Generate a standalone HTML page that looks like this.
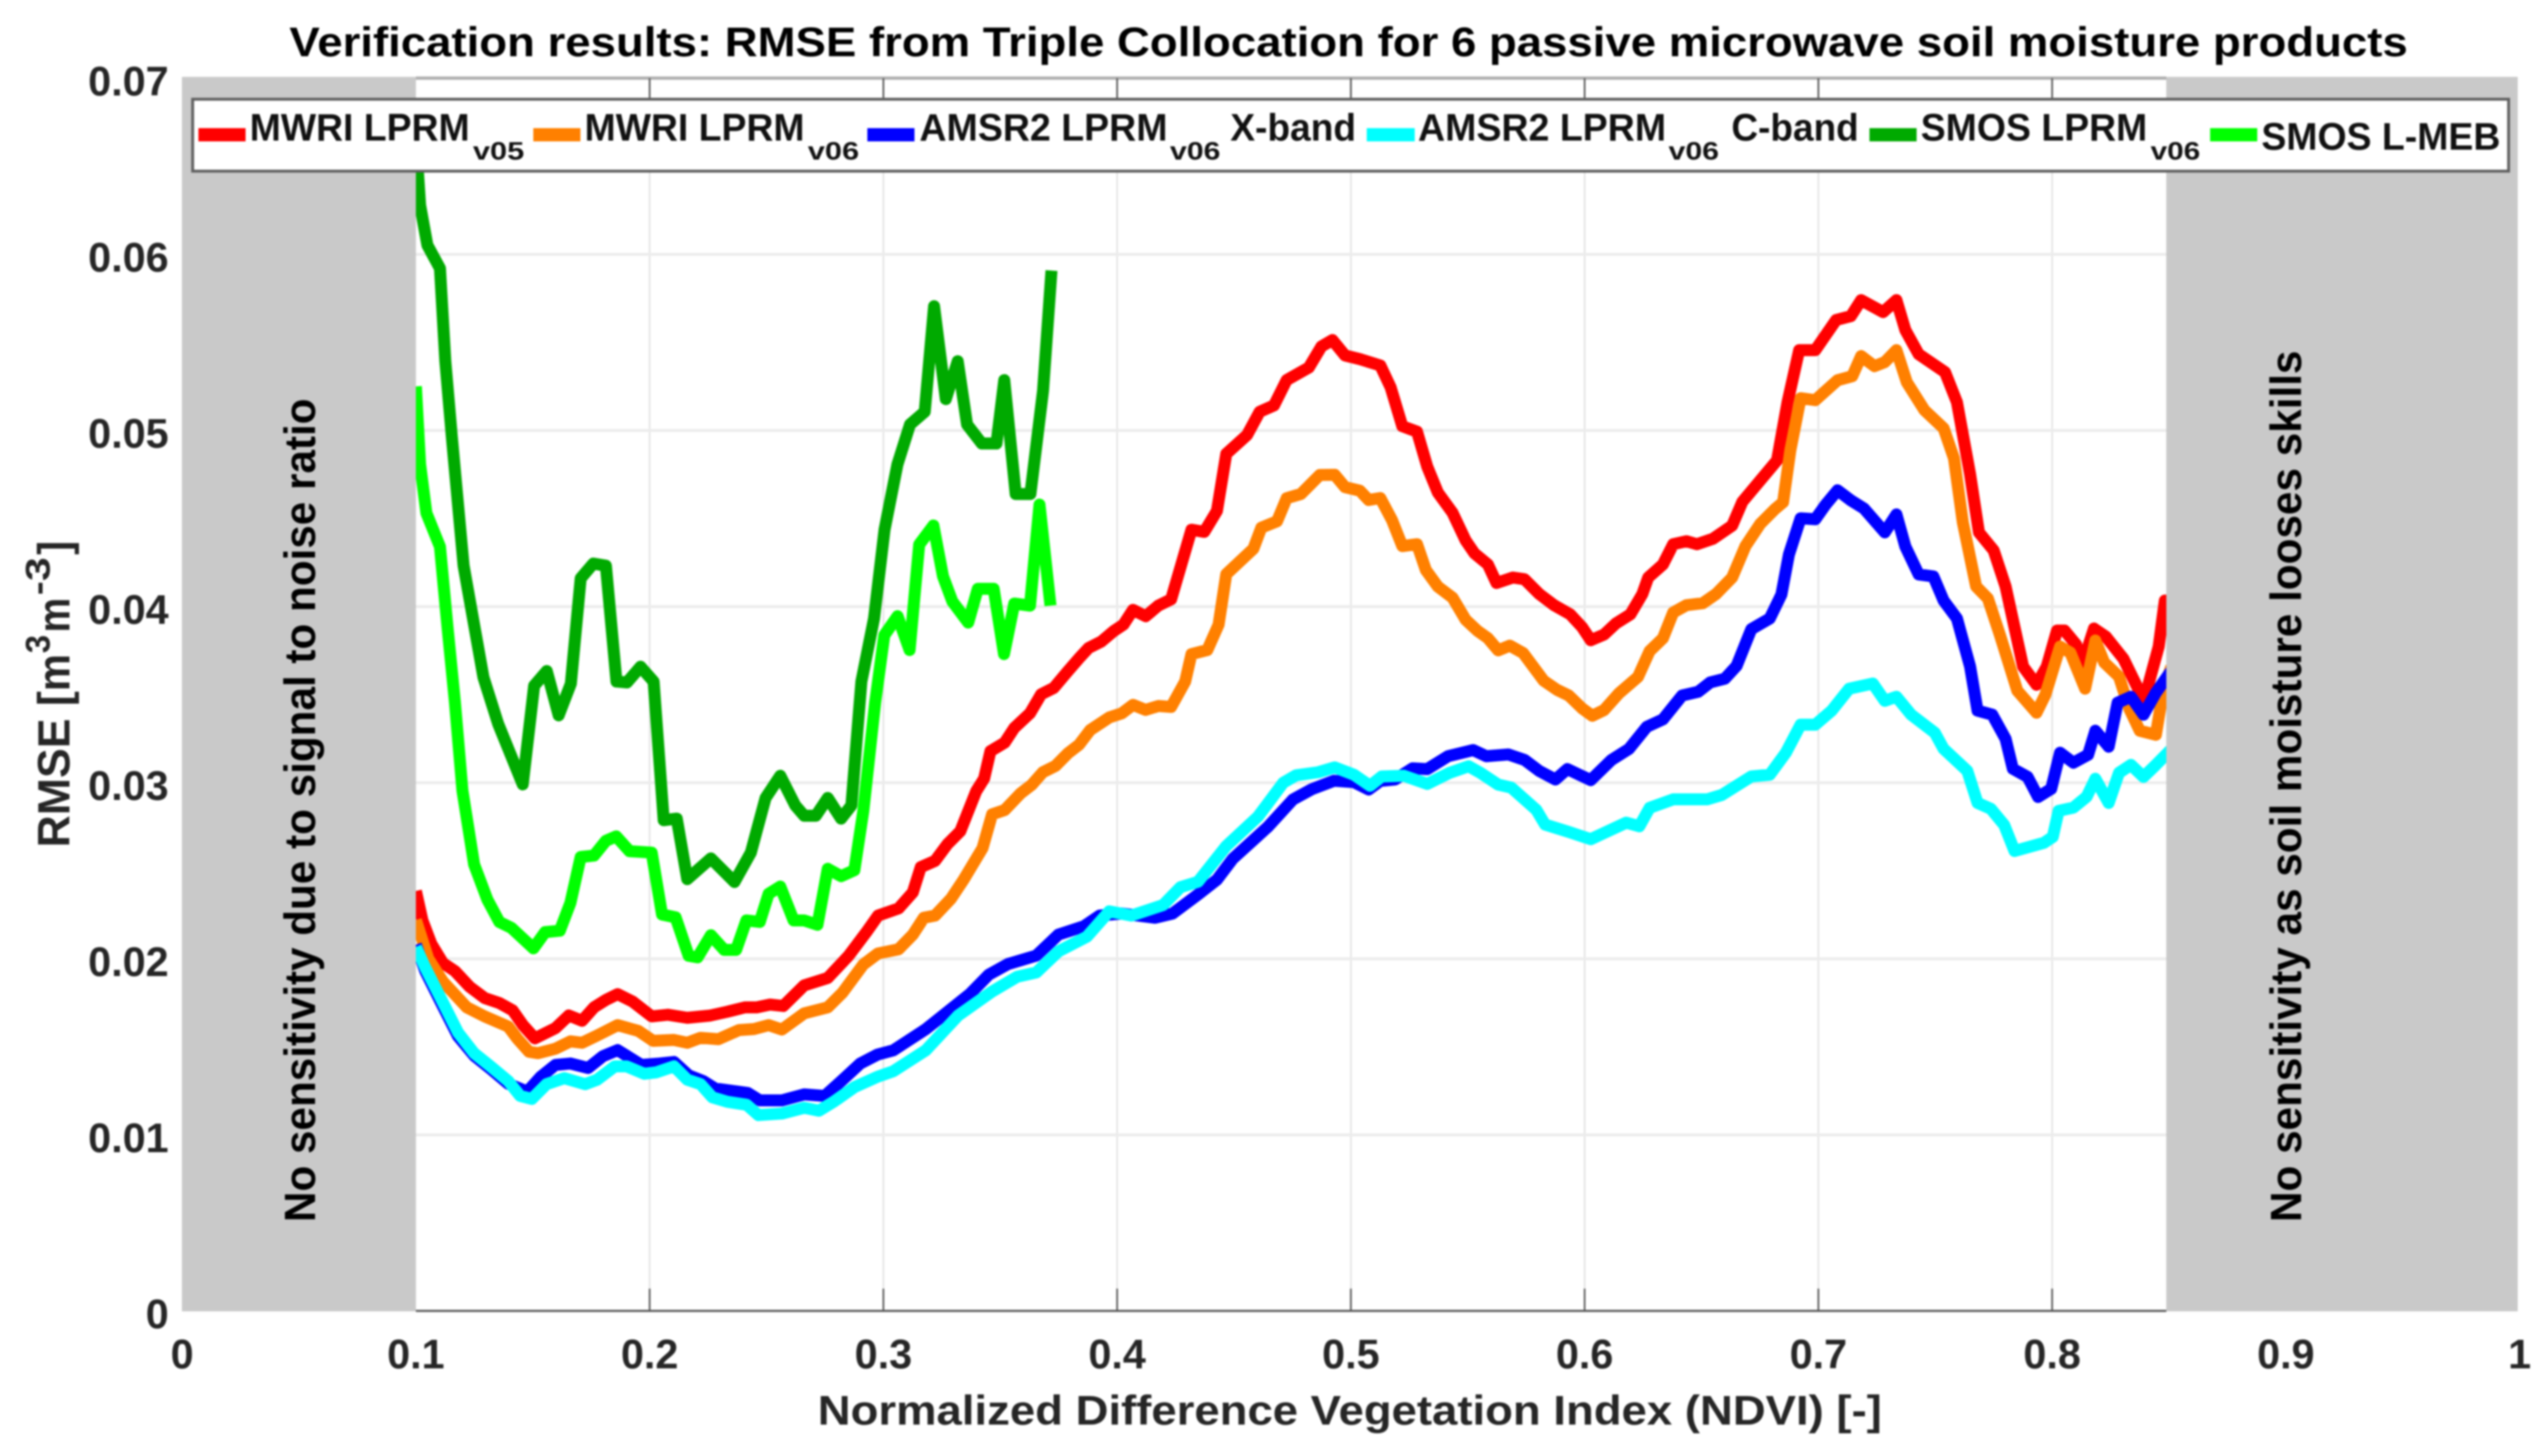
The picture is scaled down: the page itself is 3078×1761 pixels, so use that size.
<!DOCTYPE html>
<html lang="en">
<head>
<meta charset="utf-8">
<title>Verification results: RMSE from Triple Collocation</title>
<style>
html,body{margin:0;padding:0;background:#fff;}
body{width:3078px;height:1761px;overflow:hidden;}
svg{display:block;filter:blur(1.1px);}
text{font-family:"Liberation Sans",sans-serif;font-weight:bold;}
</style>
</head>
<body>
<svg xmlns="http://www.w3.org/2000/svg" width="3078" height="1761" viewBox="0 0 3078 1761">
  <rect x="0" y="0" width="3078" height="1761" fill="#fff"/>
  <g id="grid"></g>
  <g id="series"></g>
  <rect x="220" y="93" width="283" height="1493" fill="#c9c9c9"/>
  <rect x="2620" y="93" width="425" height="1493" fill="#c9c9c9"/>
  <line x1="503" y1="94.5" x2="2620" y2="94.5" stroke="#b0b0b0" stroke-width="4"/>
  <line x1="503" y1="1585.5" x2="2620" y2="1585.5" stroke="#555" stroke-width="2.5"/>
  <g id="ticks"></g>

  <text x="350" y="68" font-size="50" fill="#000" textLength="2562" lengthAdjust="spacingAndGlyphs">Verification results: RMSE from Triple Collocation for 6 passive microwave soil moisture products</text>

  <text x="989" y="1723" font-size="50" fill="#262626" textLength="1287" lengthAdjust="spacingAndGlyphs">Normalized Difference Vegetation Index (NDVI) [-]</text>

  <g fill="#262626">
    <text transform="translate(84,1025) rotate(-90)" font-size="55" textLength="189" lengthAdjust="spacingAndGlyphs" x="0" y="0">RMSE [</text>
    <text transform="translate(84,836) rotate(-90)" font-size="55" x="0" y="0" textLength="45" lengthAdjust="spacingAndGlyphs">m</text>
    <text transform="translate(60,790) rotate(-90)" font-size="42" x="0" y="0" textLength="22" lengthAdjust="spacingAndGlyphs">3</text>
    <text transform="translate(84,765) rotate(-90)" font-size="55" x="0" y="0" textLength="42" lengthAdjust="spacingAndGlyphs">m</text>
    <text transform="translate(60,720) rotate(-90)" font-size="42" x="0" y="0" textLength="46" lengthAdjust="spacingAndGlyphs">-3</text>
    <text transform="translate(84,671) rotate(-90)" font-size="55" x="0" y="0" textLength="17" lengthAdjust="spacingAndGlyphs">]</text>
  </g>

  <text transform="translate(381,1478) rotate(-90)" x="0" y="0" font-size="53" fill="#000" textLength="996" lengthAdjust="spacingAndGlyphs">No sensitivity due to signal to noise ratio</text>
  <text transform="translate(2783,1478) rotate(-90)" x="0" y="0" font-size="53" fill="#000" textLength="1054" lengthAdjust="spacingAndGlyphs">No sensitivity as soil moisture looses skills</text>

  <g>
    <rect x="233" y="120" width="2801" height="87" fill="#fff" stroke="#606060" stroke-width="3.5"/>

    <g>
      <rect x="240" y="155" width="57" height="16" fill="#ff0000"/>
      <text x="302" y="170" font-size="46" fill="#111" textLength="266" lengthAdjust="spacingAndGlyphs">MWRI LPRM</text>
      <text x="572" y="193" font-size="31" fill="#111" textLength="62" lengthAdjust="spacingAndGlyphs">v05</text>
    </g>
    <g>
      <rect x="645" y="155" width="57" height="16" fill="#ff8000"/>
      <text x="707" y="170" font-size="46" fill="#111" textLength="266" lengthAdjust="spacingAndGlyphs">MWRI LPRM</text>
      <text x="977" y="193" font-size="31" fill="#111" textLength="62" lengthAdjust="spacingAndGlyphs">v06</text>
    </g>
    <g>
      <rect x="1049" y="155" width="57" height="16" fill="#0000ff"/>
      <text x="1112" y="170" font-size="46" fill="#111" textLength="300" lengthAdjust="spacingAndGlyphs">AMSR2 LPRM</text>
      <text x="1415" y="193" font-size="31" fill="#111" textLength="61" lengthAdjust="spacingAndGlyphs">v06</text>
      <text x="1488" y="170" font-size="46" fill="#111" textLength="152" lengthAdjust="spacingAndGlyphs">X-band</text>
    </g>
    <g>
      <rect x="1653" y="155" width="58" height="16" fill="#00ffff"/>
      <text x="1715" y="170" font-size="46" fill="#111" textLength="300" lengthAdjust="spacingAndGlyphs">AMSR2 LPRM</text>
      <text x="2018" y="193" font-size="31" fill="#111" textLength="61" lengthAdjust="spacingAndGlyphs">v06</text>
      <text x="2094" y="170" font-size="46" fill="#111" textLength="154" lengthAdjust="spacingAndGlyphs">C-band</text>
    </g>
    <g>
      <rect x="2261" y="155" width="57" height="16" fill="#00aa00"/>
      <text x="2323" y="170" font-size="46" fill="#111" textLength="274" lengthAdjust="spacingAndGlyphs">SMOS LPRM</text>
      <text x="2601" y="193" font-size="31" fill="#111" textLength="60" lengthAdjust="spacingAndGlyphs">v06</text>
    </g>
    <g>
      <rect x="2673" y="155" width="57" height="16" fill="#00ff00"/>
      <text x="2735" y="181" font-size="46" fill="#111" textLength="289" lengthAdjust="spacingAndGlyphs">SMOS L-MEB</text>
    </g>
  </g>
</svg>

<script>
// Axis tick data
const xTickValues = [0, 0.1, 0.2, 0.3, 0.4, 0.5, 0.6, 0.7, 0.8, 0.9, 1];
const xTickLabels = ["0", "0.1", "0.2", "0.3", "0.4", "0.5", "0.6", "0.7", "0.8", "0.9", "1"];
const yTickValues = [0, 0.01, 0.02, 0.03, 0.04, 0.05, 0.06, 0.07];
const yTickLabels = ["0", "0.01", "0.02", "0.03", "0.04", "0.05", "0.06", "0.07"];
const xGridValues = [0.2, 0.3, 0.4, 0.5, 0.6, 0.7, 0.8];
const yGridValues = [0.01, 0.02, 0.03, 0.04, 0.05, 0.06];

// MWRI LPRM v05
const mwriV05Ndvi = [.1,.1028,.1066,.1116,.1167,.123,.1294,.1357,.1414,.1458,.1509,.1597,.1654,.1711,.1762,.1813,.1863,.1927,.2009,.2078,.2161,.2256,.2332,.2408,.2458,.2515,.2572,.2661,.2762,.2851,.2927,
.2977,.3065,.3126,.316,.3221,.3275,.3329,.3397,.3431,.3458,.3519,.356,.3627,.3675,.3729,.379,.3837,.3878,.3932,.3986,.4027,.4068,.4122,.4176,.4231,.4318,.4373,.4427,.4467,.4556,.461,.4671,.4725,.482,.4874,.4921,
.4975,.5038,.5126,.517,.522,.5283,.5327,.5372,.5435,.5491,.5529,.5586,.5623,.5693,.5743,.5806,.5869,.5938,.5989,.6026,.6083,.6134,.6196,.6247,.6272,.6335,.6379,.6436,.648,.6549,.6631,.6675,
.6716,.6823,.6868,.6918,.6987,.7076,.7139,.7183,.7277,.7334,.7372,.7429,.7542,.7593,.7649,.7687,.775,.7801,.7876,.7933,.7977,.8021,.8053,.8103,.8129,.8179,.823,.8305,.8393,.8456,.8482,.851];
const mwriV05Rmse = [.02385,.02218,.02084,.01975,.0193,.01841,.01777,.01749,.01707,.01623,.01548,.01606,.01678,.01648,.01724,.01766,.01799,.01757,.01673,.01682,.01665,.01677,.01699,.01724,.01724,.0174,.01732,.01849,.01891,.02017,.02151,
.02245,.02286,.02377,.0252,.02556,.02652,.02724,.02951,.03023,.03179,.03227,.03311,.03394,.03502,.03538,.03634,.03706,.03765,.03801,.03861,.03897,.03981,.03945,.04005,.04041,.04436,.04424,.04543,.04867,.04974,.05106,.05142,.05286,.05357,.05477,.05513,
.05426,.05405,.05369,.05244,.05024,.04993,.04794,.04647,.04532,.04375,.04302,.04239,.04134,.04165,.04155,.04071,.04008,.03956,.03883,.03809,.03841,.03904,.03956,.04071,.04165,.04239,.04354,.04371,.04354,.04385,.04459,.04595,
.0466,.0483,.0516,.05456,.05456,.05627,.05649,.0574,.05672,.0574,.0557,.05433,.05331,.0516,.04751,.04421,.04319,.04114,.03659,.03556,.03659,.03864,.03864,.03784,.0367,.03875,.03829,.03704,.03465,.03773,.04034,.04034];

// MWRI LPRM v06
const mwriV06Ndvi = [.1,.1053,.1116,.1218,.1294,.1395,.1433,.1484,.1522,.1597,.1661,.1711,.1775,.1863,.1952,.2015,.2104,.2161,.2218,.2294,.2382,.2446,.2509,.2566,.2661,.2762,.2825,.2914,
.2977,.3065,.3126,.3173,.3221,.3289,.3343,.3424,.3465,.3519,.3587,.3634,.3682,.3736,.379,.3837,.3885,.3966,.402,.4068,.4122,.4176,.4231,.4291,.4318,.4386,.4434,.4467,.4583,.4617,.4684,.4725,.4786,.4867,
.4931,.4975,.5038,.5076,.5126,.5176,.522,.5283,.5321,.5372,.5435,.5491,.5542,.5586,.563,.568,.5737,.5825,.5882,.5932,.5989,.6033,.6083,.6146,.6228,.6278,.6335,.6379,.6436,.6505,.6562,.6631,.6688,.6751,.6814,
.6849,.688,.6924,.6987,.7082,.7145,.7183,.724,.7284,.7334,.7378,.7454,.7536,.758,.7618,.7675,.7725,.7776,.7851,.7933,.7971,.8034,.8078,.8141,.8185,.8223,.8286,.833,.8375,.8444,.8475,.851];
const mwriV06Rmse = [.0222,.0200,.0187,.01724,.01673,.01615,.01548,.01472,.01464,.01489,.01531,.01523,.01564,.01623,.0159,.01534,.01539,.01523,.01551,.01543,.01595,.01601,.01623,.01598,.0169,.01724,.01807,.01967,
.0203,.02054,.02137,.02233,.02245,.02341,.02449,.02628,.0282,.02844,.02939,.02987,.03059,.03095,.03167,.03215,.03299,.0337,.03394,.03442,.03413,.03435,.0343,.03574,.0373,.03753,.03897,.04184,.04328,.04448,.04484,.04615,.04639,.04747,
.04748,.04678,.04658,.04605,.04616,.0449,.04343,.04354,.04207,.04113,.0405,.03925,.03862,.0382,.03751,.03778,.03736,.03579,.03527,.03495,.03422,.0338,.03412,.03506,.036,.03747,.0382,.03966,.04008,.04019,.04071,.04165,.04343,.04469,.04553,
.04592,.04887,.05183,.05172,.05285,.05308,.05422,.05365,.05388,.05456,.05274,.05115,.05012,.04842,.04478,.04114,.04046,.03841,.03522,.03397,.03499,.03773,.03738,.03534,.03807,.03682,.03602,.0342,.03295,.03272,.03522,.03659];

// AMSR2 LPRM v06 X-band
const amsr2XNdvi = [.1,.104,.1104,.118,.1249,.1319,.1395,.1477,.1534,.1597,.1661,.1737,.18,.1863,.1965,.2041,.2104,.2167,.223,.2281,.242,.2471,.2566,.2661,.2749,.2813,.2901,.2975,
.3042,.3181,.337,.3451,.3533,.3654,.3749,.3858,.3925,.402,.4163,.4237,.4346,.4427,.4495,.4644,.4752,.4833,.4928,
.5013,.5076,.5126,.5189,.5264,.5327,.5416,.5523,.5579,.5674,.5743,.5806,.5875,.5926,.6026,.6115,.619,.6266,.6335,.6417,.6486,.6537,.66,.665,.6713,
.6792,.6842,.6874,.6924,.6987,.7032,.7082,.7139,.7195,.7284,.7334,.7372,.7429,.7492,.7536,.7593,.7649,.7681,.7744,.7801,.7832,.7895,.794,.7996,.8034,.8091,.8154,.8185,.8242,.828,.8337,.8391,.8444,.851];
const amsr2XRmse = [.0208,.0193,.0176,.0156,.0145,.01375,.0129,.01246,.0133,.01397,.01405,.0138,.01447,.01481,.01397,.01405,.01414,.01338,.01305,.01263,.01238,.01196,.01196,.0123,.01221,.01297,.01405,.01456,
.0148,.016,.018,.0191,.0197,.02018,.02137,.02185,.02245,.02257,.02233,.02257,.02365,.02449,.02568,.02748,.02904,.02963,.03011,
.03003,.02961,.0301,.03018,.03081,.03077,.0315,.03185,.0315,.0316,.03129,.03066,.03018,.03077,.03014,.03129,.03192,.03317,.03359,.03495,.03516,.03569,.0359,.03663,.03872,
.03932,.04068,.04296,.04501,.04496,.0458,.0466,.04603,.04557,.04421,.04523,.04341,.04182,.04171,.04034,.03932,.03659,.03409,.03386,.03249,.03079,.03033,.02919,.02965,.0317,.03113,.03158,.03295,.03204,.03454,.03488,.03386,.03511,.03636];

// AMSR2 LPRM v06 C-band
const amsr2CNdvi = [.1,.104,.1104,.118,.1249,.1319,.1395,.1446,.1496,.1559,.1635,.1724,.1775,.1851,.1901,.1977,.2028,.2104,.2161,.2218,.2268,.2332,.2415,.2465,.2566,.2661,.2724,.2787,.2876,.2975,
.3042,.3181,.332,.3465,.3573,.3654,.3749,.3871,.3966,.4061,.4197,.4271,.4346,.4467,.4603,.4711,.4766,.486,.4931,
.5013,.5082,.5132,.5227,.5327,.5422,.5504,.5554,.563,.5686,.5793,.5831,.5932,.6026,.6178,.6234,.6278,.6379,.6524,.6587,.6713,
.6792,.6861,.6924,.6987,.7057,.7132,.7233,.7284,.7334,.7397,.7498,.7536,.7637,.7681,.7738,.7795,.7839,.7965,.8003,.8028,.8091,.8148,.8185,.8242,.8286,.8337,.8391,.8444,.851];
const amsr2CRmse = [.02067,.0195,.01782,.01581,.01464,.01389,.01305,.01221,.01204,.01288,.01322,.01288,.01313,.01389,.01389,.01347,.01355,.01389,.01313,.01288,.01213,.01188,.01171,.01112,.01121,.01154,.01137,.01188,.01271,.0133,
.01361,.0148,.01678,.01814,.01898,.01922,.02042,.02126,.02269,.02245,.02305,.02406,.02437,.0264,.02808,.03,.03042,.03059,.03087,
.03045,.02982,.03035,.03039,.02993,.03056,.03093,.03056,.02989,.02972,.02846,.02762,.0272,.02679,.02773,.02752,.02857,.02905,.02905,.0293,.03035,
.03045,.0317,.03329,.03329,.03409,.03534,.03563,.03465,.03488,.03386,.03283,.03192,.03067,.02885,.02851,.0276,.02612,.02658,.02692,.0284,.02858,.0292,.03022,.02885,.03056,.03101,.03033,.03101,.0319];

// SMOS LPRM v06
const smosLprmNdvi = [.1,.1018,.1049,.1103,.1126,.1154,.1204,.1289,.1352,.1457,.1506,.156,.1611,.1663,.1705,.1759,.1813,.1858,.1903,.1961,.2017,.206,.2116,.2161,.2262,.2363,.2433,.2496,.2559,.2623,.2661,.2711,.2762,.2819,.2863,
.2906,.296,.3005,.306,.3114,.3177,.3217,.3267,.3318,.3358,.3421,.3484,.3517,.3566,.3629,.3683,.3719];
const smosLprmRmse = [.0665,.06279,.06052,.0592,.05393,.04962,.04232,.03598,.03334,.0299,.0355,.03634,.03382,.03562,.0416,.04244,.04232,.03574,.03569,.03658,.03574,.02787,.02796,.02452,.0257,.02436,.02603,.02913,.03039,.02871,.02812,.02812,.02913,.02796,.02871,
.03574,.03933,.04436,.04807,.05034,.05106,.05705,.05178,.05393,.05034,.04926,.04926,.05286,.04639,.04639,.05226,.05908];

// SMOS L-MEB
const smosLmebNdvi = [.1,.1018,.1045,.1103,.1135,.1167,.1199,.1249,.1306,.1357,.1408,.1503,.1553,.1616,.1661,.1705,.1762,.1813,.1857,.1914,.2009,.2053,.2111,.2167,.2205,.2262,.2319,.237,.2414,.2471,.2509,.2559,.2616,.2661,.2718,.2762,.2819,.2876,.2914,.2965,
.3004,.3061,.3112,.3153,.3214,.3255,.3295,.3363,.3404,.3472,.3516,.356,.3627,.3668,.3715];
const smosLmebRmse = [.0525,.04807,.04531,.0434,.03885,.03457,.02955,.02536,.02335,.02209,.02176,.02059,.02151,.02159,.02318,.02578,.02586,.0267,.02695,.02611,.02603,.02251,.02235,.02017,.02008,.02134,.0205,.0205,.02218,.02209,.02369,.0241,.02218,.02218,.02193,.02511,.02469,.02503,.02838,.03457,
.03837,.03945,.03753,.04352,.0446,.04172,.04029,.03909,.04101,.04101,.0373,.04017,.04005,.04579,.04005];

const SVG_NS = "http://www.w3.org/2000/svg";
function xScale(v) { return 220.3 + v * 2827; }
function yScale(v) { return 1585.6 - v * 21300; }

const gridGroup = document.getElementById('grid');
const tickGroup = document.getElementById('ticks');
const seriesGroup = document.getElementById('series');

xGridValues.forEach(function (v) {
  const l = document.createElementNS(SVG_NS, 'line');
  l.setAttribute('x1', xScale(v));
  l.setAttribute('x2', xScale(v));
  l.setAttribute('y1', yScale(0.07));
  l.setAttribute('y2', yScale(0));
  l.setAttribute('stroke', '#e4e4e4');
  l.setAttribute('stroke-width', '2');
  
  
  gridGroup.appendChild(l);
});
yGridValues.forEach(function (v) {
  const l = document.createElementNS(SVG_NS, 'line');
  l.setAttribute('x1', xScale(0.1));
  l.setAttribute('x2', xScale(0.85));
  l.setAttribute('y1', yScale(v));
  l.setAttribute('y2', yScale(v));
  l.setAttribute('stroke', '#ececec');
  l.setAttribute('stroke-width', '3.5');
  
  
  gridGroup.appendChild(l);
});

xGridValues.forEach(function (v) {
  const b = document.createElementNS(SVG_NS, 'line');
  b.setAttribute('x1', xScale(v));
  b.setAttribute('x2', xScale(v));
  b.setAttribute('y1', yScale(0));
  b.setAttribute('y2', yScale(0) - 27);
  b.setAttribute('stroke', '#555');
  b.setAttribute('stroke-width', '2');
  
  
  tickGroup.appendChild(b);
  const t = document.createElementNS(SVG_NS, 'line');
  t.setAttribute('x1', xScale(v));
  t.setAttribute('x2', xScale(v));
  t.setAttribute('y1', yScale(0.07));
  t.setAttribute('y2', yScale(0.07) + 27);
  t.setAttribute('stroke', '#555');
  t.setAttribute('stroke-width', '2');
  
  
  tickGroup.appendChild(t);
});

xTickValues.forEach(function (v, i) {
  const t = document.createElementNS(SVG_NS, 'text');
  t.setAttribute('x', xScale(v));
  t.setAttribute('y', 1655);
  t.setAttribute('text-anchor', 'middle');
  t.setAttribute('font-size', '50');
  t.setAttribute('fill', '#262626');
  
  
  t.textContent = xTickLabels[i];
  tickGroup.appendChild(t);
});
yTickValues.forEach(function (v, i) {
  const t = document.createElementNS(SVG_NS, 'text');
  t.setAttribute('x', 204);
  t.setAttribute('y', yScale(v) + 21);
  t.setAttribute('text-anchor', 'end');
  t.setAttribute('font-size', '50');
  t.setAttribute('fill', '#262626');
  
  
  t.textContent = yTickLabels[i];
  tickGroup.appendChild(t);
});

function drawSeries(key, ndvi, rmse, color) {
  const n = Math.min(ndvi.length, rmse.length);
  const pts = [];
  for (let i = 0; i < n; i++) {
    pts.push(xScale(ndvi[i]).toFixed(1) + ',' + yScale(rmse[i]).toFixed(1));
  }
  const p = document.createElementNS(SVG_NS, 'polyline');
  p.setAttribute('points', pts.join(' '));
  p.setAttribute('fill', 'none');
  p.setAttribute('stroke', color);
  p.setAttribute('stroke-width', '14.5');
  p.setAttribute('stroke-linejoin', 'round');
  p.setAttribute('stroke-linecap', 'butt');
  
  
  seriesGroup.appendChild(p);
}

drawSeries('mwri-lprm-v05', mwriV05Ndvi, mwriV05Rmse, '#ff0000');
drawSeries('mwri-lprm-v06', mwriV06Ndvi, mwriV06Rmse, '#ff8000');
drawSeries('amsr2-lprm-v06-x-band', amsr2XNdvi, amsr2XRmse, '#0000ff');
drawSeries('amsr2-lprm-v06-c-band', amsr2CNdvi, amsr2CRmse, '#00ffff');
drawSeries('smos-lprm-v06', smosLprmNdvi, smosLprmRmse, '#00aa00');
drawSeries('smos-l-meb', smosLmebNdvi, smosLmebRmse, '#00ff00');
</script>
</body>
</html>
